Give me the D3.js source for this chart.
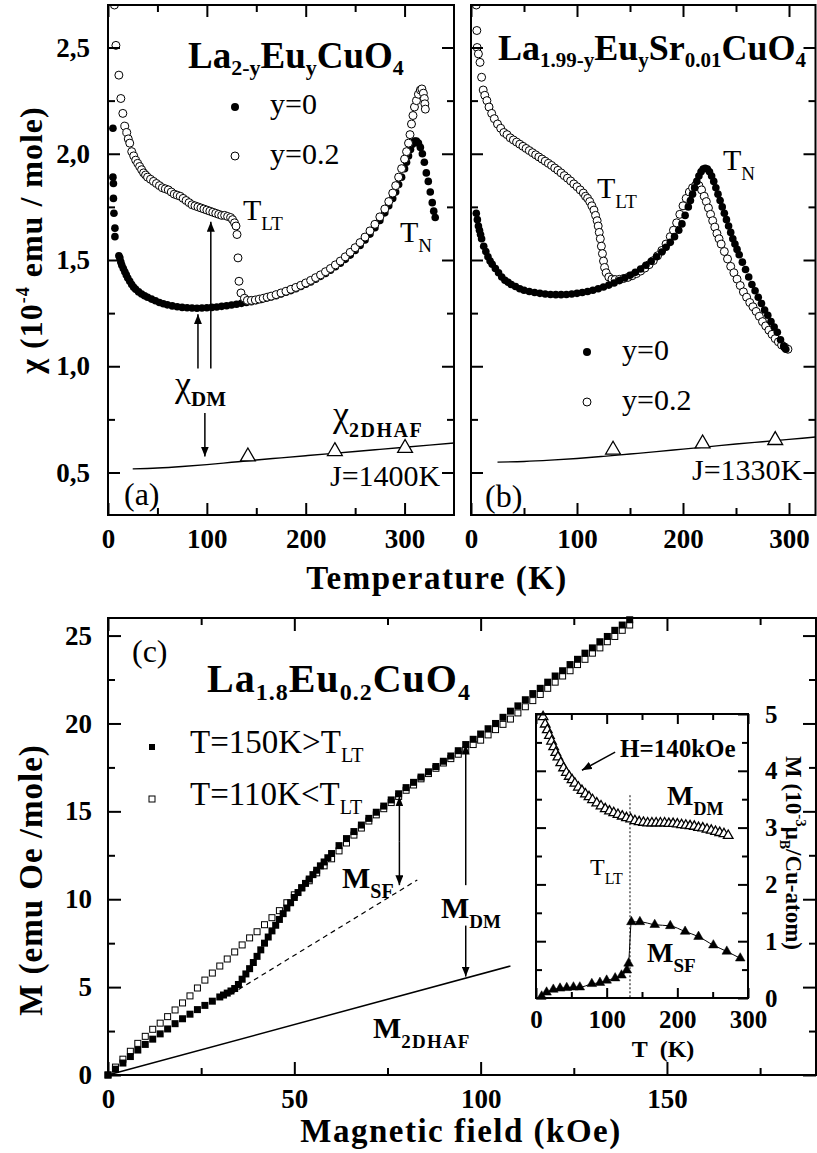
<!DOCTYPE html>
<html>
<head>
<meta charset="utf-8">
<script src="https://cdn.jsdelivr.net/npm/d3@7"></script>
<style>
html, body { margin: 0; padding: 0; background: #fff; }
</style>
</head>
<body>
<svg id="fig" width="817" height="1153"></svg>
<script>
// ---- data: [T (K), chi (1e-4 emu/mole)] ----
const chiA_y0 = [[5,2.12],[5,1.89],[5.5,1.86],[5.5,1.79],[6,1.72],[7,1.65],[7,1.61],[11,1.52],[12,1.51],[13,1.49],[14,1.475],[15.5,1.46],[17,1.445],[18.5,1.43],[20,1.415],[22,1.40],[24,1.385],[26,1.372],[28,1.362],[31,1.35],[34,1.34],[37,1.332],[40,1.325],[44,1.316],[48,1.308],[52,1.30],[56,1.294],[60,1.289],[65,1.284],[70,1.28],[75,1.277],[80,1.275],[85,1.274],[90,1.273],[95,1.274],[100,1.275],[105,1.277],[110,1.279],[115,1.282],[120,1.285],[125,1.288],[130,1.292],[135,1.296],[140,1.30],[145,1.304],[150,1.309],[155,1.314],[160,1.32],[165,1.326],[170,1.332],[175,1.34],[180,1.348],[185,1.356],[190,1.365],[195,1.375],[200,1.386],[205,1.397],[210,1.41],[215,1.423],[220,1.437],[225,1.452],[230,1.468],[235,1.485],[240,1.503],[245,1.523],[250,1.545],[255,1.568],[260,1.594],[265,1.622],[270,1.652],[275,1.686],[280,1.722],[284,1.755],[288,1.79],[291,1.82],[294,1.855],[297,1.89],[300,1.93],[302,1.96],[304,1.99],[306,2.02],[308,2.045],[310,2.06],[312,2.06],[314,2.05],[316,2.03],[318,2.00],[320,1.96],[322,1.91],[324,1.87],[326,1.82],[328,1.77],[329.5,1.73],[331,1.70]];
const chiA_y02 = [[6.5,2.70],[8,2.51],[11,2.37],[13,2.26],[15,2.19],[17,2.13],[19,2.10],[20.5,2.07],[22,2.05],[24,2.01],[26,1.99],[28,1.97],[30,1.955],[32,1.94],[34,1.925],[36,1.91],[38,1.90],[40,1.89],[43,1.88],[46,1.87],[49,1.86],[52,1.85],[55,1.84],[58,1.835],[61,1.83],[64,1.82],[67,1.81],[70,1.805],[73,1.80],[76,1.79],[79,1.78],[82,1.77],[85,1.76],[88,1.755],[91,1.75],[94,1.745],[97,1.74],[100,1.735],[103,1.73],[106,1.725],[109,1.72],[112,1.715],[115,1.71],[118,1.71],[121,1.705],[124,1.70],[126,1.69],[128,1.675],[129.5,1.66],[130.5,1.62],[131.5,1.51],[132.5,1.40],[134.5,1.345],[138,1.32],[141,1.31],[145,1.31],[149,1.312],[153,1.316],[157,1.32],[161,1.325],[165,1.33],[170,1.337],[175,1.345],[180,1.353],[185,1.362],[190,1.371],[195,1.381],[200,1.392],[205,1.404],[210,1.417],[215,1.43],[220,1.445],[225,1.46],[230,1.477],[235,1.495],[240,1.515],[245,1.536],[250,1.558],[255,1.582],[260,1.608],[265,1.637],[270,1.668],[275,1.703],[280,1.74],[284,1.775],[288,1.815],[291,1.85],[294,1.89],[297,1.93],[300,1.975],[302,2.01],[304,2.05],[305.5,2.09],[307,2.14],[308.5,2.18],[310,2.22],[312,2.25],[314,2.28],[316,2.30],[317.5,2.305],[319,2.285],[320,2.26],[320.5,2.235],[321,2.21]];
const chiB_y0 = [[5,1.72],[6,1.69],[7,1.66],[8,1.64],[9,1.62],[10,1.60],[12,1.565],[14,1.54],[16,1.515],[18,1.495],[20,1.48],[23,1.46],[26,1.44],[29,1.42],[32,1.405],[35,1.395],[38,1.385],[42,1.375],[46,1.365],[50,1.358],[55,1.352],[60,1.347],[65,1.343],[70,1.34],[75,1.338],[80,1.337],[85,1.337],[90,1.338],[95,1.34],[100,1.343],[105,1.347],[110,1.352],[115,1.358],[120,1.365],[125,1.373],[130,1.382],[135,1.392],[140,1.403],[145,1.415],[150,1.428],[155,1.442],[160,1.458],[165,1.475],[170,1.494],[175,1.515],[180,1.538],[184,1.56],[188,1.583],[192,1.61],[196,1.64],[199,1.67],[202,1.71],[205,1.75],[207,1.78],[209,1.81],[211,1.84],[213,1.87],[215,1.895],[217,1.915],[219,1.928],[221,1.932],[223,1.928],[225,1.915],[227,1.895],[229,1.87],[231,1.84],[233,1.81],[235,1.78],[237,1.75],[239,1.72],[241,1.69],[243,1.66],[245,1.63],[247,1.60],[249,1.575],[251,1.55],[253,1.525],[256,1.49],[259,1.455],[262,1.42],[265,1.385],[268,1.355],[271,1.325],[274,1.295],[277,1.265],[280,1.24],[283,1.21],[286,1.185],[289,1.16],[292,1.125],[295,1.095],[297,1.08]];
const chiB_y02 = [[5,2.70],[5.5,2.58],[5.8,2.50],[7,2.47],[8.5,2.43],[10,2.36],[11.5,2.30],[13,2.275],[15,2.25],[17,2.22],[19.5,2.19],[22,2.165],[25,2.14],[28,2.12],[31,2.10],[34,2.09],[37,2.075],[40,2.065],[43,2.055],[46,2.045],[49,2.035],[52,2.025],[55,2.015],[58,2.005],[61,1.995],[64,1.985],[67,1.975],[70,1.965],[73,1.955],[76,1.945],[79,1.933],[82,1.922],[85,1.91],[88,1.897],[91,1.885],[94,1.872],[97,1.858],[100,1.845],[103,1.83],[106,1.815],[108,1.80],[110,1.79],[112,1.775],[114,1.755],[116,1.735],[117.5,1.71],[119,1.685],[120,1.66],[121,1.63],[122,1.60],[123,1.565],[124,1.53],[125,1.495],[126,1.465],[127.5,1.44],[130,1.42],[133,1.41],[136,1.408],[140,1.409],[144,1.413],[148,1.418],[152,1.426],[156,1.436],[160,1.448],[164,1.462],[168,1.478],[172,1.497],[176,1.52],[180,1.545],[184,1.575],[188,1.61],[191,1.64],[194,1.675],[197,1.715],[200,1.755],[203,1.79],[206,1.82],[209,1.84],[212,1.852],[215,1.85],[217.5,1.83],[220,1.80],[222,1.775],[224,1.745],[226,1.715],[228,1.685],[230,1.655],[232,1.625],[234,1.60],[236,1.575],[239,1.54],[242,1.505],[245,1.47],[248,1.44],[251,1.41],[254,1.38],[257,1.35],[260,1.325],[263,1.30],[266,1.28],[269,1.258],[272,1.235],[275,1.21],[278,1.19],[281,1.17],[284,1.15],[287,1.13],[290,1.115],[293,1.10],[296,1.09],[299,1.08]];
// 2D Heisenberg AF susceptibility curves and computed triangles
const chi2dA = [[25,0.517],[50,0.521],[75,0.528],[100,0.537],[125,0.548],[150,0.559],[175,0.569],[200,0.579],[225,0.589],[250,0.599],[275,0.609],[300,0.619],[325,0.629],[350,0.639]];
const chi2dB = [[25,0.549],[50,0.552],[75,0.558],[100,0.566],[125,0.576],[150,0.587],[175,0.598],[200,0.61],[225,0.622],[250,0.634],[275,0.645],[300,0.656],[325,0.667]];
const triA = [[141.5,0.575],[229.5,0.60],[300.5,0.615]];
const triB = [[134,0.607],[218.5,0.636],[287,0.652]];

// ---- panel (c): [H (kOe), M (emu Oe/mole)] ----
const mag150K = [[0,0],[2,0.33],[4,0.68],[6,1.05],[8,1.42],[10,1.74],[12,2.04],[14,2.34],[16,2.62],[18,2.92],[20,3.2],[22,3.46],[24,3.72],[26,3.96],[28,4.2],[30,4.44],[31,4.55],[32,4.66],[33,4.78],[34,4.92],[35,5.15],[36,5.45],[37,5.75],[38,6.05],[39,6.4],[40,6.75],[41,7.12],[42,7.5],[43,7.85],[44,8.2],[45,8.52],[46,8.85],[47,9.18],[48,9.5],[49,9.8],[50,10.1],[51,10.38],[52,10.65],[53,10.9],[54,11.15],[55,11.4],[56,11.65],[57,11.9],[58,12.12],[59,12.36],[60,12.6],[62,13.05],[64,13.45],[66,13.85],[68,14.22],[70,14.6],[72,14.95],[74,15.3],[76,15.65],[78,16.0],[80,16.35],[82,16.65],[84,16.95],[86,17.25],[88,17.55],[90,17.85],[92,18.15],[94,18.45],[96,18.8],[98,19.1],[100,19.4],[102,19.7],[104,20.0],[106,20.35],[108,20.7],[110,21.0],[112,21.35],[114,21.7],[116,22.0],[118,22.35],[120,22.7],[122,23.0],[124,23.35],[126,23.65],[128,24.0],[130,24.3],[132,24.65],[134,24.95],[136,25.3],[138,25.6],[140,25.9]];
const mag110K = [[0,0],[2,0.45],[4,0.9],[6,1.35],[8,1.8],[10,2.2],[12,2.6],[14,2.95],[16,3.32],[18,3.7],[20,4.1],[22,4.5],[24,4.95],[26,5.4],[28,5.8],[30,6.2],[32,6.6],[34,7.0],[36,7.4],[38,7.8],[40,8.15],[42,8.55],[44,8.95],[46,9.35],[48,9.8],[50,10.25],[52,10.65],[54,11.05],[56,11.5],[58,11.9],[60,12.3],[62,12.75],[64,13.2],[66,13.65],[68,14.05],[70,14.45],[72,14.8],[74,15.15],[76,15.5],[78,15.85],[80,16.2],[82,16.5],[84,16.85],[86,17.15],[88,17.45],[90,17.75],[92,18.0],[94,18.25],[96,18.5],[98,18.8],[100,19.05],[102,19.35],[104,19.65],[106,19.95],[108,20.25],[110,20.6],[112,20.95],[114,21.3],[116,21.65],[118,22.0],[120,22.35],[122,22.7],[124,23.0],[126,23.35],[128,23.65],[130,24.0],[132,24.3],[134,24.65],[136,24.95],[138,25.3],[140,25.6]];
const spinFlopLine = [[33,4.6],[83,11.1]];
const m2dLine = [[0,0],[108,6.2]];

// ---- inset: M (1e-3 muB/Cu) vs T (K) at 140 kOe ----
const insetDM = [[10,4.95],[13,4.82],[16,4.72],[19,4.62],[22,4.52],[25,4.42],[28,4.32],[31,4.24],[35,4.14],[39,4.05],[43,3.97],[47,3.9],[51,3.84],[55,3.78],[60,3.71],[65,3.65],[70,3.59],[75,3.54],[80,3.49],[86,3.43],[92,3.38],[98,3.33],[104,3.29],[110,3.26],[116,3.23],[122,3.2],[128,3.17],[134,3.15],[140,3.12],[146,3.1],[152,3.09],[158,3.08],[164,3.08],[170,3.08],[176,3.08],[182,3.08],[188,3.07],[194,3.07],[200,3.06],[206,3.05],[212,3.04],[218,3.03],[224,3.02],[230,3.0],[236,2.99],[242,2.97],[248,2.95],[254,2.93],[260,2.91],[266,2.89],[272,2.86]];
const insetSF = [[8,0.03],[15,0.1],[24.5,0.15],[34,0.17],[43.5,0.18],[53,0.19],[62,0.19],[79,0.25],[90.5,0.27],[100,0.31],[112,0.35],[121,0.40],[128.5,0.49],[131,0.61],[135,1.34],[147,1.34],[168,1.29],[190,1.27],[211,1.17],[230,1.08],[251,0.93],[270,0.82],[289,0.70]];

const tempTicks = [0, 100, 200, 300], tempMinor = [50, 150, 250];
const chiTicks = [0.5, 1.0, 1.5, 2.0, 2.5], chiMinor = [0.75, 1.25, 1.75, 2.25];
const fieldTicks = [0, 50, 100, 150], fieldMinor = [25, 75, 125, 175];
const magTicks = [0, 5, 10, 15, 20, 25], magMinor = [2.5, 7.5, 12.5, 17.5, 22.5];
const insetYTicks = [0, 1, 2, 3, 4, 5], insetYMinor = [0.5, 1.5, 2.5, 3.5, 4.5];

// ---- scales ----
const xA = d3.scaleLinear().domain([0, 350]).range([108, 454]);
const xB = d3.scaleLinear().domain([0, 325]).range([471, 815.5]);
const yChi = d3.scaleLinear().domain([0.3, 2.7]).range([515, 5]);
const xC = d3.scaleLinear().domain([0, 190]).range([108, 816]);
const yC = d3.scaleLinear().domain([0, 26]).range([1075, 618]);
const xI = d3.scaleLinear().domain([0, 300]).range([536, 748]);
const yI = d3.scaleLinear().domain([0, 5]).range([998, 714]);

const SERIF = "Liberation Serif";
const svg = d3.select("#fig");
const defs = svg.append("defs");
defs.append("marker").attr("id", "head")
    .attr("viewBox", "0 0 10 8").attr("refX", 10).attr("refY", 4)
    .attr("markerWidth", 10).attr("markerHeight", 8)
    .attr("markerUnits", "userSpaceOnUse").attr("orient", "auto-start-reverse")
    .append("path").attr("d", "M0,0L10,4L0,8Z").attr("fill", "#000");

const commaFmt = d => d.toFixed(1).replace(".", ",");
const noLabel = () => "";

function axis(gen, pos, values, size, fmt, pad, fontSize) {
    const a = svg.append("g").attr("transform", pos)
        .call(gen.tickValues(values).tickSize(-size).tickSizeOuter(0).tickPadding(pad).tickFormat(fmt));
    a.select(".domain").remove();
    a.attr("font-size", fontSize).attr("font-weight", "bold");
    a.selectAll("line").attr("stroke-width", 2);
    return a;
}

function frame(x, y, opt) {
    const [l, r] = x.range(), [b, t] = y.range();
    const M = opt.major, m = opt.minor;
    axis(d3.axisBottom(x), `translate(0,${b})`, opt.xMajor, M, opt.xFmt || noLabel, opt.xPad, opt.fs);
    axis(d3.axisBottom(x), `translate(0,${b})`, opt.xMinor, m, noLabel, 0, opt.fs);
    axis(d3.axisTop(x), `translate(0,${t})`, opt.xMajor, M, noLabel, 0, opt.fs);
    axis(d3.axisTop(x), `translate(0,${t})`, opt.xMinor, m, noLabel, 0, opt.fs);
    axis(d3.axisLeft(y), `translate(${l},0)`, opt.yMajor, M, opt.yLeftFmt || noLabel, opt.yPad, opt.fs);
    axis(d3.axisLeft(y), `translate(${l},0)`, opt.yMinor, m, noLabel, 0, opt.fs);
    axis(d3.axisRight(y), `translate(${r},0)`, opt.yMajor, M, opt.yRightFmt || noLabel, opt.yPad, opt.fs);
    axis(d3.axisRight(y), `translate(${r},0)`, opt.yMinor, m, noLabel, 0, opt.fs);
    svg.append("rect").attr("x", l).attr("y", t).attr("width", r - l).attr("height", b - t)
        .attr("fill", "none").attr("stroke", "#000").attr("stroke-width", 2);
}

function clipFor(id, x, y) {
    const [l, r] = x.range(), [b, t] = y.range();
    defs.append("clipPath").attr("id", id).append("rect")
        .attr("x", l).attr("y", t).attr("width", r - l).attr("height", b - t);
    return svg.append("g").attr("clip-path", `url(#${id})`);
}

function circles(g, data, x, y, filled) {
    g.append("g").selectAll("circle").data(data).join("circle")
        .attr("cx", d => x(d[0])).attr("cy", d => y(d[1]))
        .attr("r", filled ? 3.8 : 4)
        .attr("fill", filled ? "#000" : "#fff")
        .attr("stroke", "#000").attr("stroke-width", filled ? 0 : 1);
}

function squares(g, data, x, y, side, filled) {
    g.append("g").selectAll("rect").data(data).join("rect")
        .attr("x", d => x(d[0]) - side / 2).attr("y", d => y(d[1]) - side / 2)
        .attr("width", side).attr("height", side)
        .attr("fill", filled ? "#000" : "#fff")
        .attr("stroke", filled ? "none" : "#000").attr("stroke-width", 1);
}

function triangles(g, data, x, y, size, filled) {
    g.append("g").selectAll("path").data(data).join("path")
        .attr("transform", d => `translate(${x(d[0])},${y(d[1])})`)
        .attr("d", d3.symbol().type(d3.symbolTriangle).size(size))
        .attr("fill", filled ? "#000" : "#fff")
        .attr("stroke", "#000").attr("stroke-width", filled ? 0.5 : 1.3);
}

function curve(g, data, x, y, width, dash) {
    const p = g.append("path").datum(data)
        .attr("d", d3.line().x(d => x(d[0])).y(d => y(d[1])).curve(d3.curveMonotoneX))
        .attr("fill", "none").attr("stroke", "#000").attr("stroke-width", width);
    if (dash) p.attr("stroke-dasharray", dash);
}

function arrow(x1, y1, x2, y2) {
    svg.append("line").attr("x1", x1).attr("y1", y1).attr("x2", x2).attr("y2", y2)
        .attr("stroke", "#000").attr("stroke-width", 1.5).attr("marker-end", "url(#head)");
}

// parts: [text, baseline offset, font-size, weight, letter-spacing]
function rich(x, y, parts, attrs) {
    const t = svg.append("text").attr("x", x).attr("y", y).attr("fill", "#000");
    Object.entries(attrs || {}).forEach(([k, v]) => t.attr(k, v));
    let cur = 0;
    parts.forEach(([txt, off = 0, size, weight, ls]) => {
        const s = t.append("tspan").attr("dy", off - cur).text(txt);
        if (size) s.attr("font-size", size);
        if (weight) s.attr("font-weight", weight);
        if (ls !== undefined) s.attr("letter-spacing", ls);
        cur = off;
    });
    return t;
}

// ================= panel (a) =================
const gA = clipFor("clipA", xA, yChi);
curve(gA, chi2dA, xA, yChi, 1.4);
triangles(gA, triA, xA, yChi, 95, false);
circles(gA, chiA_y0, xA, yChi, true);
circles(gA, chiA_y02, xA, yChi, false);
frame(xA, yChi, { major: 12, minor: 7, xMajor: tempTicks, xMinor: tempMinor, yMajor: chiTicks, yMinor: chiMinor,
    xFmt: d3.format("d"), xPad: 14, yLeftFmt: commaFmt, yPad: 18, fs: 27 });

// ================= panel (b) =================
const gB = clipFor("clipB", xB, yChi);
curve(gB, chi2dB, xB, yChi, 1.4);
triangles(gB, triB, xB, yChi, 95, false);
circles(gB, chiB_y02, xB, yChi, false);
circles(gB, chiB_y0, xB, yChi, true);
frame(xB, yChi, { major: 12, minor: 7, xMajor: tempTicks, xMinor: tempMinor, yMajor: chiTicks, yMinor: chiMinor,
    xFmt: d3.format("d"), xPad: 14, yPad: 18, fs: 27 });

// ================= panel (c) =================
const gC = svg.append("g");
curve(gC, m2dLine, xC, yC, 1.5);
curve(gC, spinFlopLine, xC, yC, 1.2, "5,4");
squares(gC, mag110K, xC, yC, 6, false);
squares(gC, mag150K, xC, yC, 7, true);
frame(xC, yC, { major: 13, minor: 7, xMajor: fieldTicks, xMinor: fieldMinor, yMajor: magTicks, yMinor: magMinor,
    xFmt: d3.format("d"), xPad: 14, yLeftFmt: d3.format("d"), yPad: 16, fs: 27 });

// ================= inset =================
svg.append("rect").attr("x", xI.range()[0]).attr("y", yI.range()[1])
    .attr("width", xI.range()[1] - xI.range()[0]).attr("height", yI.range()[0] - yI.range()[1]).attr("fill", "#fff");
const gI = svg.append("g");
gI.append("line").attr("x1", xI(133)).attr("x2", xI(133)).attr("y1", yI(3.57)).attr("y2", yI(0))
    .attr("stroke", "#000").attr("stroke-width", 1).attr("stroke-dasharray", "2,2");
curve(gI, insetSF, xI, yI, 1);
triangles(gI, insetSF, xI, yI, 40, true);
triangles(gI, insetDM, xI, yI, 40, false);
frame(xI, yI, { major: 10, minor: 6, xMajor: tempTicks, xMinor: tempMinor, yMajor: insetYTicks, yMinor: insetYMinor,
    xFmt: d3.format("d"), xPad: 12, yRightFmt: d3.format("d"), yPad: 17, fs: 25 });

// ================= annotations =================
// panel (a)
rich(188, 68, [["La"], ["2-y", 7, 22], ["Eu", 0], ["y", 7, 22], ["CuO", 0], ["4", 7, 22]], { "font-size": 37, "font-weight": "bold" });
svg.append("circle").attr("cx", 235).attr("cy", 107).attr("r", 4).attr("fill", "#000");
svg.append("circle").attr("cx", 235).attr("cy", 156).attr("r", 4).attr("fill", "#fff").attr("stroke", "#000");
rich(270, 114, [["y=0"]], { "font-size": 30 });
rich(270, 164, [["y=0.2"]], { "font-size": 30 });
rich(243, 220, [["T"], ["LT", 10, 19]], { "font-size": 30 });
rich(400, 242, [["T"], ["N", 10, 19]], { "font-size": 30 });
arrow(xA(91), yChi(0.99), xA(91), yChi(1.245));
arrow(xA(104), yChi(0.99), xA(104), yChi(1.68));
arrow(xA(98), yChi(0.78), xA(98), yChi(0.575));
rich(175, 396, [["χ"], ["DM", 10, 21, "bold"]], { "font-size": 36 });
rich(333, 426, [["χ"], ["2DHAF", 11, 20, "bold", 1.5]], { "font-size": 36 });
rich(330, 486, [["J=1400K"]], { "font-size": 30 });
rich(124, 505, [["(a)"]], { "font-size": 32 });
rich(42, 240, [["χ (10"], ["-4", -13, 18], [" emu / mole)", 0]],
    { "font-size": 32, "font-weight": "bold", "text-anchor": "middle", "letter-spacing": 1, transform: "rotate(-90,42,240)" });

// panel (b)
rich(498, 60, [["La"], ["1.99-y", 7, 21], ["Eu", 0], ["y", 7, 21], ["Sr", 0], ["0.01", 7, 21], ["CuO", 0], ["4", 7, 21]], { "font-size": 36, "font-weight": "bold" });
rich(597, 198, [["T"], ["LT", 10, 19]], { "font-size": 30 });
rich(723, 170, [["T"], ["N", 10, 19]], { "font-size": 30 });
svg.append("circle").attr("cx", 587).attr("cy", 352).attr("r", 4).attr("fill", "#000");
svg.append("circle").attr("cx", 587).attr("cy", 402).attr("r", 4).attr("fill", "#fff").attr("stroke", "#000");
rich(622, 360, [["y=0"]], { "font-size": 30 });
rich(622, 410, [["y=0.2"]], { "font-size": 30 });
rich(692, 480, [["J=1330K"]], { "font-size": 30 });
rich(485, 507, [["(b)"]], { "font-size": 32 });

rich(437, 589, [["Temperature (K)"]], { "font-size": 33, "font-weight": "bold", "text-anchor": "middle", "letter-spacing": 1.5 });

// panel (c)
rich(132, 662, [["(c)"]], { "font-size": 32 });
rich(207, 692, [["La"], ["1.8", 8, 24], ["Eu", 0], ["0.2", 8, 24], ["CuO", 0], ["4", 8, 24]], { "font-size": 40, "font-weight": "bold", "letter-spacing": 1 });
svg.append("rect").attr("x", 149).attr("y", 744).attr("width", 6).attr("height", 6).attr("fill", "#000");
svg.append("rect").attr("x", 149).attr("y", 796).attr("width", 6).attr("height", 6).attr("fill", "#fff").attr("stroke", "#000");
rich(190, 753, [["T=150K>T"], ["LT", 9, 20]], { "font-size": 33 });
rich(190, 805, [["T=110K<T"], ["LT", 9, 20]], { "font-size": 33 });
arrow(xC(78.2), yC(13.3), xC(78.2), yC(15.85));
arrow(xC(78.2), yC(13.3), xC(78.2), yC(10.8));
arrow(xC(96), yC(10.8), xC(96), yC(18.8));
arrow(xC(96), yC(8.5), xC(96), yC(5.6));
rich(342, 888, [["M"], ["SF", 10, 20]], { "font-size": 30, "font-weight": "bold" });
rich(441, 918, [["M"], ["DM", 10, 19]], { "font-size": 30, "font-weight": "bold" });
rich(373, 1038, [["M"], ["2DHAF", 10, 19, null, 1.2]], { "font-size": 30, "font-weight": "bold" });
rich(42, 880, [["M (emu Oe /mole)"]],
    { "font-size": 33, "font-weight": "bold", "text-anchor": "middle", "letter-spacing": 1, transform: "rotate(-90,42,880)" });
rich(461, 1142, [["Magnetic field (kOe)"]], { "font-size": 33, "font-weight": "bold", "text-anchor": "middle", "letter-spacing": 1.5 });

// inset
rich(620, 757, [["H=140kOe"]], { "font-size": 25, "font-weight": "bold" });
arrow(xI(112), yI(4.33), xI(65), yI(4.01));
rich(667, 805, [["M"], ["DM", 10, 18]], { "font-size": 28, "font-weight": "bold" });
rich(590, 875, [["T"], ["LT", 9, 16]], { "font-size": 24 });
rich(647, 962, [["M"], ["SF", 10, 19]], { "font-size": 28, "font-weight": "bold" });
rich(663, 1057, [["T\u00a0 (K)"]], { "font-size": 24, "font-weight": "bold", "text-anchor": "middle" });
rich(786, 853, [["M (10"], ["-3", -10, 15], ["μ", 0], ["B", 6, 14], ["/Cu-atom)", 0]],
    { "font-size": 23, "font-weight": "bold", "text-anchor": "middle", transform: "rotate(90,786,853)" });

// set the face inline on every text so nothing else overrides it
svg.selectAll("text").style("font-family", SERIF);
</script>
</body>
</html>
